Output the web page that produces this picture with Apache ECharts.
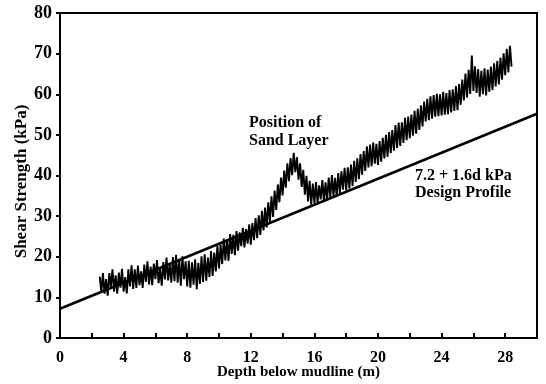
<!DOCTYPE html>
<html>
<head>
<meta charset="utf-8">
<script src="https://cdn.jsdelivr.net/npm/echarts@6/dist/echarts.min.js"></script>
<style>html,body{margin:0;padding:0;background:#fff}#c{width:546px;height:384px}</style>
</head>
<body>
<div id="c"></div>
<script>
const depths = [
  2.5,2.6,2.7,2.8,2.9,3.0,3.1,3.2,3.3,3.4,3.5,3.6,3.7,3.8,3.9,4.0,
  4.1,4.2,4.3,4.4,4.5,4.6,4.7,4.8,4.9,5.0,
  5.1,5.2,5.3,5.4,5.5,5.6,5.7,5.8,5.9,6.0,
  6.1,6.2,6.3,6.4,6.5,6.6,6.7,6.8,6.9,7.0,
  7.1,7.2,7.3,7.4,7.5,7.6,7.7,7.8,7.9,8.0,
  8.1,8.2,8.3,8.4,8.5,8.6,8.7,8.8,8.9,9.0,
  9.1,9.2,9.3,9.4,9.5,9.6,9.7,9.8,9.9,10.0,
  10.1,10.2,10.3,10.4,10.5,10.6,10.7,10.8,10.9,11.0,
  11.1,11.2,11.3,11.4,11.5,11.6,11.7,11.8,11.9,12.0,
  12.1,12.2,12.3,12.4,12.5,12.6,12.7,12.8,12.9,13.0,
  13.1,13.2,13.3,13.4,13.5,13.6,13.7,13.8,13.9,14.0,
  14.1,14.2,14.3,14.4,14.5,14.6,14.7,14.8,14.9,15.0,
  15.1,15.2,15.3,15.4,15.5,15.6,15.7,15.8,15.9,16.0,
  16.1,16.2,16.3,16.4,16.5,16.6,16.7,16.8,16.9,17.0,
  17.1,17.2,17.3,17.4,17.5,17.6,17.7,17.8,17.9,18.0,
  18.1,18.2,18.3,18.4,18.5,18.6,18.7,18.8,18.9,19.0,
  19.1,19.2,19.3,19.4,19.5,19.6,19.7,19.8,19.9,20.0,
  20.1,20.2,20.3,20.4,20.5,20.6,20.7,20.8,20.9,21.0,
  21.1,21.2,21.3,21.4,21.5,21.6,21.7,21.8,21.9,22.0,
  22.1,22.2,22.3,22.4,22.5,22.6,22.7,22.8,22.9,23.0,
  23.1,23.2,23.3,23.4,23.5,23.6,23.7,23.8,23.9,24.0,
  24.1,24.2,24.3,24.4,24.5,24.6,24.7,24.8,24.9,25.0,
  25.1,25.2,25.3,25.4,25.5,25.6,25.7,25.8,25.9,26.0,
  26.1,26.2,26.3,26.4,26.5,26.6,26.7,26.8,26.9,27.0,
  27.1,27.2,27.3,27.4,27.5,27.6,27.7,27.8,27.9,28.0,
  28.1,28.2,28.3,28.4
];
const strength = [
  15.1,11.3,16.0,10.9,14.5,10.4,16.0,12.6,16.9,11.4,15.4,10.9,16.1,12.4,17.0,11.4,
  15.0,11.0,16.9,12.7,17.9,12.1,16.9,12.3,17.8,13.0,
  16.4,12.3,18.1,13.8,18.9,13.2,17.6,13.0,18.3,14.5,
  19.2,13.5,17.0,12.9,18.7,14.4,19.8,14.2,18.2,13.6,
  19.9,14.0,20.5,13.6,19.3,12.9,20.1,14.5,18.9,12.7,
  19.0,12.4,18.6,13.1,19.4,12.0,18.5,13.3,20.1,13.8,
  20.6,14.1,19.8,15.0,21.4,15.3,21.0,16.4,22.9,17.1,
  23.0,18.2,24.5,19.1,24.3,19.0,25.6,20.7,25.4,20.4,
  26.3,21.5,26.0,22.6,27.1,22.3,26.8,23.2,28.0,23.0,
  28.3,24.1,29.5,24.6,30.2,25.4,31.3,26.5,32.1,27.2,
  33.4,28.6,34.9,29.8,36.3,31.5,37.8,33.4,39.5,35.1,
  41.2,37.0,43.0,38.6,44.3,40.1,45.6,40.8,44.5,39.0,
  43.0,37.2,41.4,35.3,39.9,33.6,38.7,32.8,38.0,33.2,
  38.4,33.0,37.6,34.1,38.9,33.5,38.3,34.0,39.5,34.6,
  40.1,35.0,39.4,34.8,40.6,35.7,41.0,36.5,41.9,36.3,
  42.0,36.8,42.7,37.4,43.6,38.4,44.2,39.1,45.3,40.2,
  46.0,41.1,47.2,42.0,47.6,42.3,48.1,42.9,47.8,42.6,
  48.5,43.4,49.3,44.2,50.0,44.6,50.7,45.5,51.2,46.1,
  52.4,46.8,53.0,47.3,53.1,48.0,54.2,48.7,54.5,49.2,
  55.0,49.8,55.9,50.3,56.4,51.2,57.3,52.1,58.2,53.3,
  58.9,53.6,59.5,54.0,59.8,54.5,60.1,54.6,60.0,54.8,
  60.6,55.0,60.3,55.1,61.0,55.5,61.2,55.9,62.0,56.1,
  62.5,57.4,63.6,58.5,65.1,59.2,66.0,60.1,69.5,60.8,
  66.9,60.3,66.2,59.4,65.8,60.0,66.4,59.7,66.1,60.6,
  66.8,61.0,67.6,61.9,68.2,62.4,69.0,63.6,70.1,64.7,
  71.2,65.4,71.9,66.8
];
// Design profile: 7.2 + 1.6d kPa
const designDepth = [0, 30];
const designStrength = [7.2, 55.2];
// Axis ticks
const xTickLabels = ['0','4','8','12','16','20','24','28'];
const yTickLabels = ['0','10','20','30','40','50','60','70','80'];

const serif = '"Liberation Serif","DejaVu Serif",serif';
const chart = echarts.init(document.getElementById('c'), null, {renderer: 'canvas'});
chart.setOption({
  animation: false,
  backgroundColor: '#fff',
  grid: {left: 60, right: 9, top: 13, bottom: 46, containLabel: false, outerBoundsMode: 'none',
    show: true, borderColor: '#000', borderWidth: 2, backgroundColor: 'transparent'},
  xAxis: {
    type: 'value', min: 0, max: 30, interval: 2,
    name: 'Depth below mudline (m)', nameLocation: 'middle', nameGap: 27, nameMoveOverlap: false,
    nameTextStyle: {fontFamily: serif, fontWeight: 'bold', fontSize: 15, color: '#000'},
    axisLine: {lineStyle: {color: '#000', width: 2}},
    axisTick: {inside: true, length: 5, lineStyle: {color: '#000', width: 2}},
    axisLabel: {fontFamily: serif, fontWeight: 'bold', fontSize: 16, color: '#000', margin: 12,
      formatter: v => xTickLabels.includes(String(v)) ? String(v) : '', showMaxLabel: false},
    splitLine: {show: false}
  },
  yAxis: {
    type: 'value', min: 0, max: 80, interval: 10,
    name: 'Shear Strength (kPa)', nameLocation: 'middle', nameGap: 30, nameMoveOverlap: false,
    nameTextStyle: {fontFamily: serif, fontWeight: 'bold', fontSize: 17, color: '#000', padding: [0, 12, 0, 0]},
    axisLine: {lineStyle: {color: '#000', width: 2}},
    axisTick: {length: 4, lineStyle: {color: '#000', width: 2}},
    axisLabel: {fontFamily: serif, fontWeight: 'bold', fontSize: 18, color: '#000', margin: 8,
      formatter: v => yTickLabels.includes(String(v)) ? String(v) : ''},
    splitLine: {show: false}
  },
  series: [
    {type: 'line', data: depths.map((d, i) => [d, strength[i]]), showSymbol: false,
      lineStyle: {color: '#000', width: 1.9}, z: 3},
    {type: 'line', data: designDepth.map((d, i) => [d, designStrength[i]]), showSymbol: false,
      lineStyle: {color: '#000', width: 2.5}, z: 4}
  ],
  graphic: [
    {type: 'text', left: 249, top: 114, style: {text: 'Position of\nSand Layer', font: 'bold 16px ' + serif, fill: '#000', align: 'center', lineHeight: 18}},
    {type: 'text', left: 415, top: 167, style: {text: '7.2 + 1.6d kPa\nDesign Profile', font: 'bold 16px ' + serif, fill: '#000', align: 'center', lineHeight: 17}}
  ]
});
</script>
</body>
</html>
